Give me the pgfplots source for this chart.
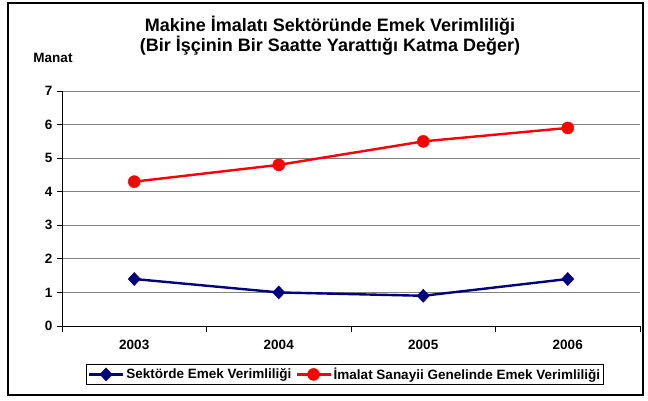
\documentclass[border=0pt]{standalone}
\usepackage{pgfplots}
\pgfplotsset{compat=1.18}
\usepackage{fontspec}
\setmainfont{Liberation Sans}
\definecolor{navyline}{RGB}{0,0,128}
\definecolor{redline}{RGB}{255,0,0}

\begin{document}
\begin{tikzpicture}[x=1pt,y=1pt]
\path[use as bounding box] (-62,-75) rectangle (586,326);
\draw[line width=1.8pt] (-54,-69) rectangle (581,323);
\node[font=\bfseries\fontsize{18}{21}\selectfont] at (268,300) {Makine İmalatı Sektöründe Emek Verimliliği};
\node[font=\bfseries\fontsize{18}{21}\selectfont] at (268,280) {(Bir İşçinin Bir Saatte Yarattığı Katma Değer)};
\node[font=\bfseries\fontsize{13.5}{16}\selectfont] at (-9,268) {Manat};
\begin{axis}[
    at={(0,0)}, anchor=south west,
    scale only axis,
    width=578pt, height=235pt,
    xmin=-0.5, xmax=3.5,
    ymin=0, ymax=7,
    axis lines*=left,
    axis line style={black, line width=0.8pt},
    xtick={0,1,2,3},
    xticklabels={2003,2004,2005,2006},
    minor xtick={-0.5,0.5,1.5,2.5,3.5},
    major x tick style={draw=none},
    minor x tick style={black, line width=0.8pt},
    minor tick length=6pt,
    ytick={0,1,...,7},
    major y tick style={black, line width=0.8pt},
    major tick length=5pt,
    tick align=outside,
    ymajorgrids,
    grid style={black!50, line width=0.8pt},
    tick label style={font=\bfseries\fontsize{13.5}{16}\selectfont},
    /pgf/number format/assume math mode=true,
    xticklabel style={yshift=-6pt},
    yticklabel style={xshift=-1pt},
    legend columns=2,
    legend style={at={(0.4896,-0.206)}, anchor=center, draw=black, line width=0.6pt,
        font=\bfseries\fontsize{13.5}{16}\selectfont, inner sep=1.5pt,
        /tikz/every even column/.append style={column sep=2pt}},
    legend image code/.code={\draw[mark repeat=2,mark phase=2,#1] plot coordinates {(0pt,0pt) (17pt,0pt) (34pt,0pt)};},
]
\addplot[navyline, line width=2.4pt, mark=diamond*, mark size=6.5pt, mark options={xscale=1.25, line width=0.5pt}] coordinates {
    (0,1.4) (1,1.0) (2,0.9) (3,1.4)
};
\addlegendentry{Sektörde Emek Verimliliği}
\addplot[redline, line width=2.4pt, mark=*, mark size=6pt, mark options={line width=0.5pt}] coordinates {
    (0,4.3) (1,4.8) (2,5.5) (3,5.9)
};
\addlegendentry{İmalat Sanayii Genelinde Emek Verimliliği}
\end{axis}
\end{tikzpicture}
\end{document}
